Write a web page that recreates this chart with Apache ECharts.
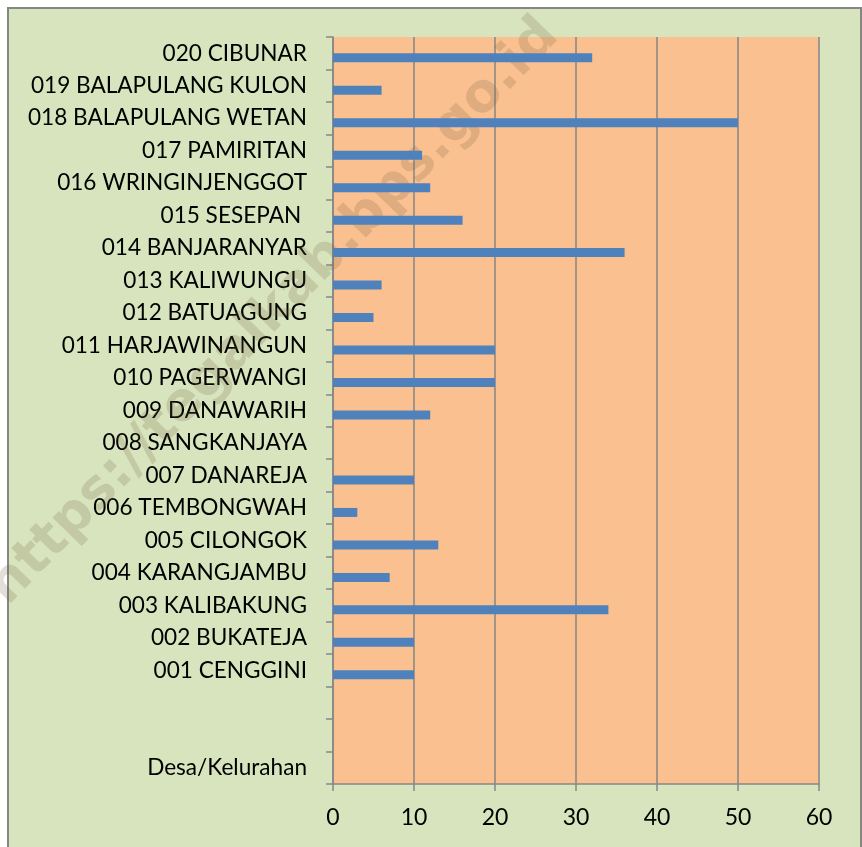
<!DOCTYPE html>
<html>
<head>
<meta charset="utf-8">
<script src="https://cdn.jsdelivr.net/npm/echarts@6/dist/echarts.min.js"></script>
<style>
  html, body { margin: 0; padding: 0; background: #ffffff; }
  #main { width: 862px; height: 847px; }
</style>
</head>
<body>
<div id="main"></div>
<script>
// kategori dari bawah ke atas (seperti di Excel)
var categories = ['Desa/Kelurahan', ' ', '  ',
    '001 CENGGINI', '002 BUKATEJA', '003 KALIBAKUNG', '004 KARANGJAMBU', '005 CILONGOK',
    '006 TEMBONGWAH', '007 DANAREJA', '008 SANGKANJAYA', '009 DANAWARIH', '010 PAGERWANGI',
    '011 HARJAWINANGUN', '012 BATUAGUNG', '013 KALIWUNGU', '014 BANJARANYAR', '015 SESEPAN ',
    '016 WRINGINJENGGOT', '017 PAMIRITAN', '018 BALAPULANG WETAN', '019 BALAPULANG KULON', '020 CIBUNAR'];
var values = [null, null, null,
    10, 10, 34, 7, 13,
    3, 10, 0, 12, 20,
    20, 5, 6, 36, 16,
    12, 11, 50, 6, 32];
var emptyValues = categories.map(function () { return null; });
var xTicks = [0, 10, 20, 30, 40, 50, 60];

var myChart = echarts.init(document.getElementById('main'));
var fontName = 'Lato';
var option = {
    backgroundColor: '#ffffff',
    animation: false,
    graphic: [
        {
            type: 'rect',
            shape: { x: 8, y: 8, width: 853, height: 860 },
            style: { fill: '#d7e4bd', stroke: '#868686', lineWidth: 2 },
            z: -10
        },
        {
            // watermark
            type: 'text',
            x: 274, y: 312,
            rotation: 0.80,
            style: {
                text: 'https://tegalkab.bps.go.id',
                font: 'bold 54px "DejaVu Sans"',
                fill: 'rgba(110,95,60,0.2)',
                align: 'center',
                verticalAlign: 'middle'
            },
            z: 1
        }
    ],
    grid: {
        left: 333,
        top: 37,
        width: 486,
        height: 747,
        show: true,
        backgroundColor: '#fac090',
        borderWidth: 0
    },
    xAxis: {
        type: 'value',
        min: 0,
        max: 60,
        interval: 10,
        axisLine: { show: true, lineStyle: { color: '#868686', width: 1.5 } },
        axisTick: { show: true, length: 7, lineStyle: { color: '#868686', width: 1.5 } },
        splitLine: { show: true, lineStyle: { color: '#868686', width: 1.5 } },
        axisLabel: {
            color: '#000000',
            fontFamily: fontName,
            fontSize: 23,
            margin: 22,
            formatter: function (v) { return xTicks.indexOf(v) >= 0 ? String(v) : ''; }
        }
    },
    yAxis: {
        type: 'category',
        data: categories,
        axisLine: { show: true, lineStyle: { color: '#868686', width: 1.5 } },
        axisTick: { show: true, length: 7, lineStyle: { color: '#868686', width: 1.5 } },
        axisLabel: {
            color: '#000000',
            fontFamily: fontName,
            fontSize: 22.6,
            margin: 26,
            interval: 0
        }
    },
    series: [
        {
            name: 'kosong',
            type: 'bar',
            data: emptyValues,
            barWidth: 9,
            barGap: '0%'
        },
        {
            name: 'Jumlah',
            type: 'bar',
            data: values,
            barWidth: 9,
            barGap: '0%',
            z: 3,
            itemStyle: { color: '#4f81bd' }
        }
    ]
};
myChart.setOption(option);
</script>
</body>
</html>
